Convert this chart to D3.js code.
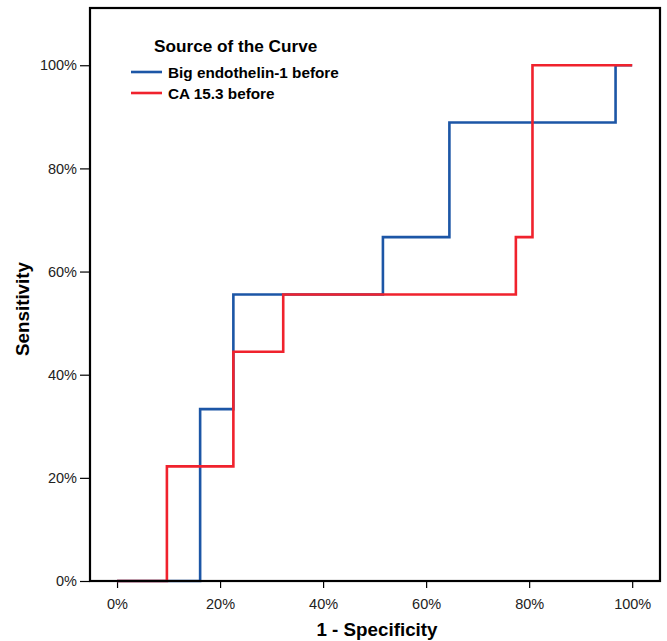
<!DOCTYPE html>
<html>
<head>
<meta charset="utf-8">
<script src="https://cdn.jsdelivr.net/npm/d3@7.9.0/dist/d3.min.js"></script>
<style>
  body { margin: 0; background: #fff; }
  svg { display: block; font-family: "Liberation Sans", Arial, sans-serif; }
</style>
</head>
<body>
<svg id="chart" width="667" height="641"></svg>
<script>
// ROC operating points (1 - specificity, sensitivity)
const bigEt1Fpr = [0, 5 / 31, 7 / 31, 16 / 31, 20 / 31, 30 / 31, 1];
const bigEt1Tpr = [0, 3 / 9, 5 / 9, 6 / 9, 8 / 9, 1, 1];

const ca153Fpr = [0, 3 / 31, 7 / 31, 10 / 31, 24 / 31, 25 / 31, 1];
const ca153Tpr = [0, 2 / 9, 4 / 9, 5 / 9, 6 / 9, 1, 1];

const seriesNames = ['Big endothelin-1 before', 'CA 15.3 before'];
const seriesColors = ['#1c56a6', '#f0222d'];
const tickValues = [0, 0.2, 0.4, 0.6, 0.8, 1];

const svg = d3.select('#chart');

// plot frame
const frame = { left: 90, right: 660, top: 8, bottom: 581 };

const x = d3.scaleLinear()
  .domain([-0.0525, 1.054])
  .range([frame.left, frame.right]);

const y = d3.scaleLinear()
  .domain([0, 1.111])
  .range([frame.bottom, frame.top]);

const pct = d3.format('.0%');

// axes
svg.append('g')
  .attr('transform', `translate(0,${frame.bottom})`)
  .call(d3.axisBottom(x).tickValues(tickValues).tickFormat(pct).tickSize(7).tickPadding(11))
  .call(g => g.select('.domain').remove())
  .call(g => g.selectAll('line').attr('stroke', '#000').attr('stroke-width', 1.2))
  .call(g => g.selectAll('text').attr('font-size', 14.5).attr('fill', '#222')
    .attr('font-family', '"Liberation Sans", Arial, sans-serif'));

svg.append('g')
  .attr('transform', `translate(${frame.left},0)`)
  .call(d3.axisLeft(y).tickValues(tickValues).tickFormat(pct).tickSize(10).tickPadding(3))
  .call(g => g.select('.domain').remove())
  .call(g => g.selectAll('line').attr('stroke', '#000').attr('stroke-width', 1.2))
  .call(g => g.selectAll('text').attr('font-size', 14.5).attr('fill', '#222')
    .attr('font-family', '"Liberation Sans", Arial, sans-serif'));

// curves
const line = d3.line()
  .x(d => x(d[0]))
  .y(d => y(d[1]))
  .curve(d3.curveStepAfter);

const series = [
  d3.zip(bigEt1Fpr, bigEt1Tpr),
  d3.zip(ca153Fpr, ca153Tpr)
];

svg.append('g')
  .selectAll('path')
  .data(series)
  .enter()
  .append('path')
  .attr('d', line)
  .attr('fill', 'none')
  .attr('stroke', (d, i) => seriesColors[i])
  .attr('stroke-width', 2.6)
  .attr('stroke-linejoin', 'miter');

// frame
svg.append('rect')
  .attr('x', frame.left)
  .attr('y', frame.top)
  .attr('width', frame.right - frame.left)
  .attr('height', frame.bottom - frame.top)
  .attr('fill', 'none')
  .attr('stroke', '#000')
  .attr('stroke-width', 2.2);

// axis titles
svg.append('text')
  .attr('x', 377)
  .attr('y', 636)
  .attr('text-anchor', 'middle')
  .attr('font-size', 18.8)
  .attr('font-weight', 'bold')
  .text('1 - Specificity');

svg.append('text')
  .attr('transform', 'translate(29,309) rotate(-90)')
  .attr('text-anchor', 'middle')
  .attr('font-size', 18.8)
  .attr('font-weight', 'bold')
  .text('Sensitivity');

// legend
const legend = svg.append('g');
legend.append('text')
  .attr('x', 154)
  .attr('y', 52)
  .attr('font-size', 17.2)
  .attr('font-weight', 'bold')
  .text('Source of the Curve');

seriesNames.forEach((name, i) => {
  const ly = 72 + i * 21;
  legend.append('line')
    .attr('x1', 131).attr('x2', 162)
    .attr('y1', ly).attr('y2', ly)
    .attr('stroke', seriesColors[i])
    .attr('stroke-width', 2.6);
  legend.append('text')
    .attr('x', 168)
    .attr('y', ly + 5.5)
    .attr('font-size', 15.3)
    .attr('font-weight', 'bold')
    .text(name);
});
</script>
</body>
</html>
